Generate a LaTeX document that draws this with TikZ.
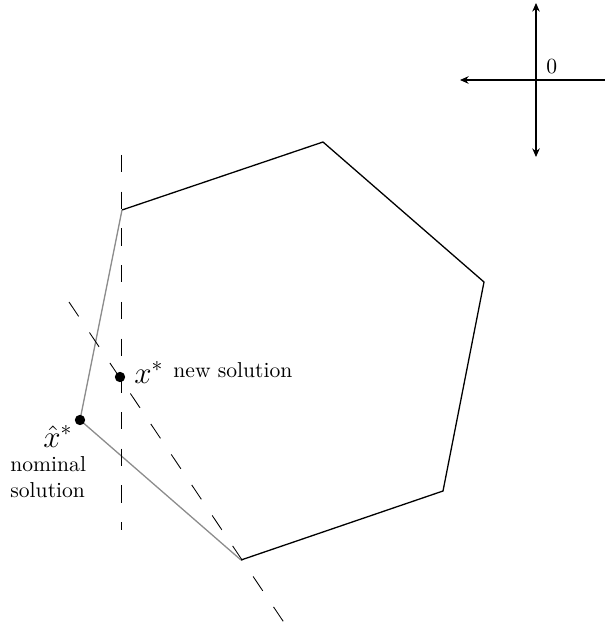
\documentclass[tikz,border=0pt]{standalone}
\usetikzlibrary{arrows.meta}

\begin{document}
\begin{tikzpicture}[x=0.463pt, y=-0.463pt,
        edge/.style={line width=0.6pt, black},
        oldedge/.style={line width=0.6pt, black!45},
        cut/.style={line width=0.4pt, dash pattern=on 8pt off 9pt},
        axis/.style={line width=0.6pt, {Stealth[length=4pt,width=3.5pt]}-{Stealth[length=4pt,width=3.5pt]}},
        sol/.style={circle, fill=black, minimum size=4.8pt, inner sep=0pt},
        lbl/.style={inner sep=0pt}]
        \useasboundingbox (0,0) rectangle (605,625);

        % feasible polytope
        \coordinate (p1) at (122,210);
        \coordinate (p2) at (323,142);
        \coordinate (p3) at (484,282);
        \coordinate (p4) at (443,491);
        \coordinate (p5) at (241,560);
        \coordinate (p6) at (80,420);

        \draw[edge] (p1)--(p2)--(p3)--(p4)--(p5);
        \draw[oldedge] (p5)--(p6)--(p1);

        % cutting lines
        \coordinate (c1) at (121,155);
        \coordinate (c2) at (121,530);
        \coordinate (c3) at (69,302);
        \coordinate (c4) at (285,624);
        \draw[cut] (c1)--(c2);
        \draw[cut] (c3)--(c4);

        % solutions
        \node[sol] (nom) at (p6) {};
        \node[sol] (new) at (120,377) {};
        \node[lbl, anchor=base west] (newx) at (134,383) {\Large$x^*$};
        \node[lbl, anchor=base west] (newtxt) at (173,377) {new solution};
        \node[lbl, anchor=base east] (nomx) at (73,447) {\Large$\hat{x}^*$};
        \node[lbl, anchor=base west, align=left] (nomtxt) at (10,497) {nominal\\solution};

        % axes
        \coordinate (o) at (536,80);
        \coordinate (ytop) at (536,3);
        \coordinate (ybot) at (536,157);
        \coordinate (xleft) at (460,80);
        \coordinate (xright) at (605,80);
        \draw[axis] (ytop)--(ybot);
        \draw[line width=0.6pt, {Stealth[length=4pt,width=3.5pt]}-] (xleft)--(xright);
        \node[lbl, anchor=base west] (zero) at (546,74) {0};
        \end{tikzpicture}
\end{document}
